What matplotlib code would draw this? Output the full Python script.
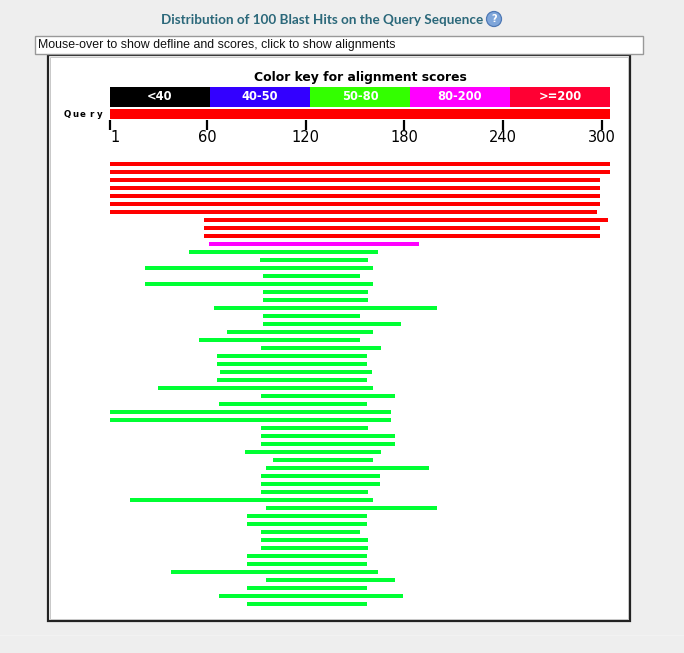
import matplotlib
matplotlib.use("Agg")
import matplotlib.pyplot as plt
from matplotlib.patches import Rectangle, Ellipse
from matplotlib.lines import Line2D
from matplotlib.transforms import blended_transform_factory

# ---------------- data ----------------
query_length = 305
tick_values = [1, 60, 120, 180, 240, 300]
key_labels = ["<40", "40-50", "50-80", "80-200", ">=200"]
key_colors = ["#000000", "#3300FF", "#33FF00", "#FF00FF", "#FF0033"]
class_colors = {"lt40": "#000000", "40-50": "#0000FF", "50-80": "#00FF33",
                "80-200": "#FF00FF", "ge200": "#FF0000"}

hit_start = [1, 1, 1, 1, 1, 1, 1, 58, 58, 58,
             61,
             49, 92, 22, 94, 22, 94, 94, 64, 94, 94,
             72, 55, 93, 66, 66, 68, 66, 30, 93, 67,
             1, 1, 93, 93, 93, 83, 100, 96, 93, 93,
             93, 13, 96, 84, 84, 93, 93, 93, 84, 84,
             38, 96, 84, 67, 84]
hit_end = [305, 305, 299, 299, 299, 299, 297, 304, 299, 299,
           189,
           164, 158, 161, 153, 161, 158, 158, 200, 153, 178,
           161, 153, 166, 157, 157, 160, 157, 161, 174, 157,
           172, 172, 158, 174, 174, 166, 161, 195, 165, 165,
           158, 161, 200, 157, 157, 153, 158, 158, 157, 157,
           164, 174, 157, 179, 157]
hit_class = ["ge200"] * 10 + ["80-200"] + ["50-80"] * 45

# ---------------- figure ----------------
W, H = 684, 653
fig = plt.figure(figsize=(W / 100, H / 100), dpi=100, facecolor="#EEEEEE")


def fx(px):
    return px / W


def fy(py):
    return 1 - py / H


# faint separator line near the bottom of the page
fig.lines.append(Line2D([0, 1], [fy(635), fy(635)], transform=fig.transFigure,
                        color="#F2F2F2", linewidth=1.0, zorder=-4))

# graphic frame
fig.patches.append(Rectangle((fx(48), fy(621)), (630 - 48) / W, (621 - 55) / H,
                             transform=fig.transFigure, facecolor="white",
                             edgecolor="#222222", linewidth=1.6, zorder=-3))
fig.patches.append(Rectangle((fx(50), fy(619)), (628 - 50) / W, (619 - 57) / H,
                             transform=fig.transFigure, facecolor="none",
                             edgecolor="#C8C8C8", linewidth=0.7, zorder=-2))

# mouse-over text box
fig.patches.append(Rectangle((fx(35), fy(53.5)), (642.5 - 35) / W, (53.5 - 36.5) / H,
                             transform=fig.transFigure, facecolor="white",
                             edgecolor="#999999", linewidth=1.0, zorder=-1))
narrow = ["Liberation Sans Narrow", "Liberation Sans", "DejaVu Sans"]
t_box = fig.text(fx(37.5), fy(45.2), "Mouse-over to show defline and scores, click to show alignments",
                 ha="left", va="center", fontsize=8.5, family=narrow, color="#111111")

# title
t_title = fig.text(fx(322), fy(19.5), "Distribution of 100 Blast Hits on the Query Sequence",
                   ha="center", va="center", fontsize=10, fontweight="bold",
                   family=["Lato", "Liberation Sans", "DejaVu Sans"], color="#2B687A")
# help icon
fig.patches.append(Ellipse((fx(494), fy(19)), 15 / W, 15 / H, transform=fig.transFigure,
                           facecolor="#7FA6DA", edgecolor="#4F79B5", linewidth=0.9))
fig.text(fx(494), fy(19.3), "?", ha="center", va="center", fontsize=7,
         fontweight="bold", color="white")

# main axes: x in query coordinates, y in row units (row i centred at pixel 164 + 8 i)
top_px, bot_px = 60, 612
ax = fig.add_axes([fx(110), fy(bot_px), 500 / W, (bot_px - top_px) / H], zorder=2)
ax.set_xlim(1, query_length)


def row(py):
    return (py - 164) / 8


ax.set_ylim(row(bot_px), row(top_px))
ax.axis("off")
ax.patch.set_alpha(0)

# color key
bt = blended_transform_factory(ax.transAxes, ax.transData)
t_key = ax.text(0.5, row(77.5), "Color key for alignment scores", transform=bt, ha="center",
                va="center", fontsize=10, fontweight="bold", color="black")
k_top, k_bot = row(87), row(107)
n = len(key_labels)
for i, (lab, col) in enumerate(zip(key_labels, key_colors)):
    ax.add_patch(Rectangle((i / n, k_top), 1 / n, k_bot - k_top, transform=bt,
                           facecolor=col, edgecolor="none", clip_on=False))
    ax.text((i + 0.5) / n, (k_top + k_bot) / 2, lab, transform=bt, ha="center",
            va="center", fontsize=8.3, fontweight="bold", color="white")

# query bar
q_top, q_bot = row(109), row(119)
ax.barh([(q_top + q_bot) / 2], [query_length - 1], left=[1], height=q_bot - q_top,
        color="#FF0000", clip_on=False)
# "Query" label (spaced letters)
for ch, px in zip("Query", [67, 75, 83, 91.3, 99.5]):
    fig.text(fx(px), fy(114.5), ch, ha="center", va="center", fontsize=6.2,
             fontweight="bold", color="black")

# ticks and tick labels
ax.vlines(tick_values, row(120), row(129.5), color="black", linewidth=1.6, clip_on=False)
for v in tick_values:
    ha = "left" if v == 1 else "center"
    ax.text(v, row(137.5), str(v), ha=ha, va="center", fontsize=10.5, color="black")

# hits
rows = list(range(len(hit_start)))
widths = [e - s for s, e in zip(hit_start, hit_end)]
colors = [class_colors[c] for c in hit_class]
ax.barh(rows, widths, left=hit_start, height=0.5, color=colors, linewidth=0, clip_on=False)

# fit text widths to the reference
fig.canvas.draw()
r = fig.canvas.get_renderer()
for t, target in [(t_title, 321), (t_box, 355), (t_key, 214)]:
    w = t.get_window_extent(r).width
    t.set_fontsize(t.get_fontsize() * target / w)

fig.savefig("out.png", dpi=100, facecolor=fig.get_facecolor())
